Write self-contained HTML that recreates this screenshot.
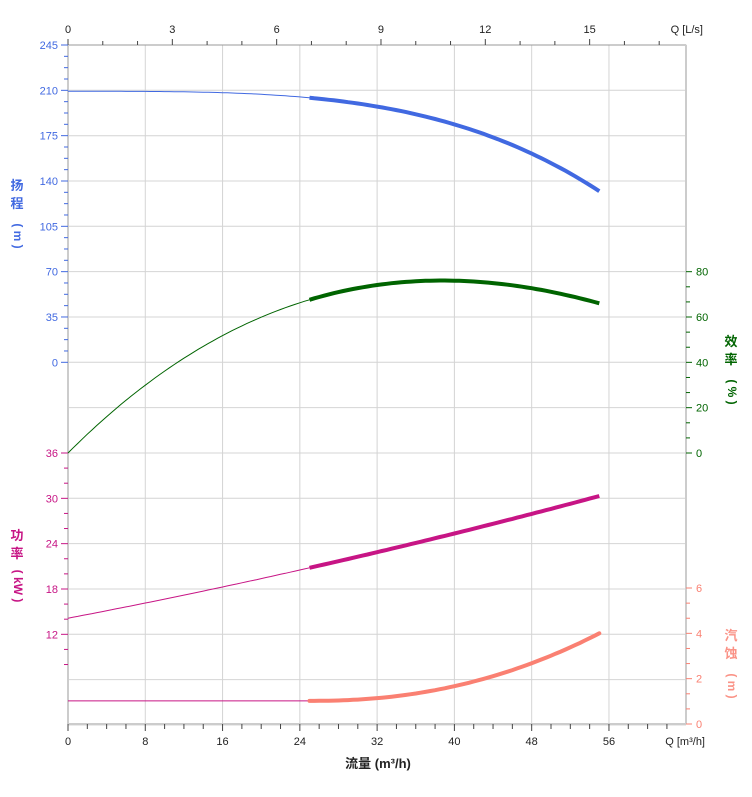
<!DOCTYPE html><html><head><meta charset="utf-8"><style>body{margin:0;background:#fff}svg{display:block}text{font-family:"Liberation Sans","Noto Sans CJK SC",sans-serif;font-size:11px}</style></head><body>
<svg id="s" width="752" height="797" xmlns="http://www.w3.org/2000/svg"></svg>
<script>
const s=document.getElementById('s');let h='';
const X=q=>68+q*9.66;
const L=68,R=686,T=45,B=724;
for(let y=45;y<=725;y+=45.33){h+=`<line x1="${L}" x2="${R}" y1="${y.toFixed(1)}" y2="${y.toFixed(1)}" stroke="#d4d4d4"/>`;}
for(let q=8;q<=56;q+=8)h+=`<line x1="${X(q)}" x2="${X(q)}" y1="${T}" y2="${B}" stroke="#d4d4d4"/>`;
h+=`<rect x="${L}" y="${T}" width="${R-L}" height="${B-T}" fill="none" stroke="#ccc"/>`;
h+=`<line x1="${L}" x2="${R}" y1="${T}" y2="${T}" stroke="#999"/><line x1="${L}" x2="${R}" y1="${B}" y2="${B}" stroke="#ccc" stroke-width="2"/>`;
for(let q=0;q<=63;q+=2){const maj=q%8==0;h+=`<line x1="${X(q)}" x2="${X(q)}" y1="${B}" y2="${B+(maj?7:5)}" stroke="#444"/>`;if(maj)h+=`<text x="${X(q)}" y="745" text-anchor="middle" fill="#222">${q}</text>`;}
h+=`<text x="705" y="745" text-anchor="end" fill="#222">Q [m³/h]</text>`;
h+=`<text x="378" y="768" text-anchor="middle" fill="#222" font-weight="bold" style="font-size:13px">流量 (m³/h)</text>`;
for(let q=0;q<=17;q++){const x=X(q*3.6);if(x>R)break;const maj=q%3==0;h+=`<line x1="${x}" x2="${x}" y1="${T}" y2="${T-(maj?6:4)}" stroke="#444"/>`;if(maj)h+=`<text x="${x}" y="33" text-anchor="middle" fill="#222">${q}</text>`;}
h+=`<text x="703" y="33" text-anchor="end" fill="#222">Q [L/s]</text>`;
const hb='#4169e1',gr='#006400',pw='#c71585',np='#fa8072';
h+=`<line x1="${L}" x2="${L}" y1="${T}" y2="${B}" stroke="#ccc" stroke-width="2"/>`;
for(let i=0;i<=7;i++){const y=45+i*45.33;h+=`<line x1="61" x2="68" y1="${y}" y2="${y}" stroke="${hb}"/><text x="58" y="${y+4}" text-anchor="end" fill="${hb}">${245-35*i}</text>`;if(i<7)for(let k=1;k<4;k++)h+=`<line x1="64" x2="68" y1="${y+k*11.33}" y2="${y+k*11.33}" stroke="${hb}"/>`;}
for(let i=0;i<=4;i++){const y=453+i*45.33;h+=`<line x1="61" x2="68" y1="${y}" y2="${y}" stroke="${pw}"/><text x="58" y="${y+4}" text-anchor="end" fill="${pw}">${36-6*i}</text>`;for(let k=1;k<3;k++)h+=`<line x1="64" x2="68" y1="${y+k*15.1}" y2="${y+k*15.1}" stroke="${pw}"/>`;}
h+=`<line x1="${R}" x2="${R}" y1="${T}" y2="${B}" stroke="#ccc" stroke-width="2"/>`;
for(let i=0;i<=4;i++){const y=453-i*45.33;h+=`<line x1="686" x2="692" y1="${y}" y2="${y}" stroke="${gr}"/><text x="696" y="${y+4}" fill="${gr}">${i*20}</text>`;if(i<4)for(let k=1;k<3;k++)h+=`<line x1="686" x2="690" y1="${y-k*15.1}" y2="${y-k*15.1}" stroke="${gr}"/>`;}
for(let i=0;i<=3;i++){const y=724-i*45.33;h+=`<line x1="686" x2="692" y1="${y}" y2="${y}" stroke="${np}"/><text x="696" y="${y+4}" fill="${np}">${i*2}</text>`;if(i<3)for(let k=1;k<3;k++)h+=`<line x1="686" x2="690" y1="${y-k*15.1}" y2="${y-k*15.1}" stroke="${np}"/>`;}
function vt(x,y,c,chars){let o='';chars.forEach((ch,i)=>{const yy=y+i*18+(ch.r?10:0);o+=ch.r?`<text x="${x}" y="${yy}" fill="${c}" font-weight="bold" style="font-size:12px" text-anchor="middle" dominant-baseline="middle" transform="rotate(90 ${x} ${yy})">( ${ch.t} )</text>`:`<text x="${x}" y="${yy}" fill="${c}" font-weight="bold" style="font-size:13px" text-anchor="middle">${ch.t}</text>`});return o;}
h+=vt(17,190,hb,[{t:'扬'},{t:'程'},{t:'m',r:1}]);
h+=vt(17,540,pw,[{t:'功'},{t:'率'},{t:'kW',r:1}]);
h+=vt(731,346,gr,[{t:'效'},{t:'率'},{t:'%',r:1}]);
h+=`<g opacity="0.85">`+vt(731,640,np,[{t:'汽'},{t:'蚀'},{t:'m',r:1}])+`</g>`;
function path(f,a,b){let p='';for(let q=a;q<=b+1e-9;q+=0.5){p+=(q==a?'M':'L')+X(q).toFixed(1)+','+f(q).toFixed(1)+' ';}return p;}
const H=q=>362-(209-5*Math.pow(q/25,3.47))*45.33/35;
const E=q=>453-(4.275*q-0.0686*q*q+0.000231*q*q*q)*45.33/20;
const P=q=>453+(36-(14.13+0.2441*q+0.000909*q*q))*45.33/6;
const N=q=>724-(q<25?1.02:1.02+2.98*Math.pow((q-25)/30,2.2))*45.33/2;
h+=`<path d="${path(H,0,25)}" fill="none" stroke="${hb}" stroke-width="1"/><path d="${path(H,25,55)}" fill="none" stroke="${hb}" stroke-width="4"/>`;
h+=`<path d="${path(E,0,25)}" fill="none" stroke="${gr}" stroke-width="1"/><path d="${path(E,25,55)}" fill="none" stroke="${gr}" stroke-width="4"/>`;
h+=`<path d="${path(P,0,25)}" fill="none" stroke="${pw}" stroke-width="1"/><path d="${path(P,25,55)}" fill="none" stroke="${pw}" stroke-width="4"/>`;
h+=`<path d="${path(N,0,25)}" fill="none" stroke="${pw}" stroke-width="1"/><path d="${path(N,25,55)}" fill="none" stroke="${np}" stroke-width="4" stroke-linecap="round"/>`;
s.innerHTML=h;
</script></body></html>
